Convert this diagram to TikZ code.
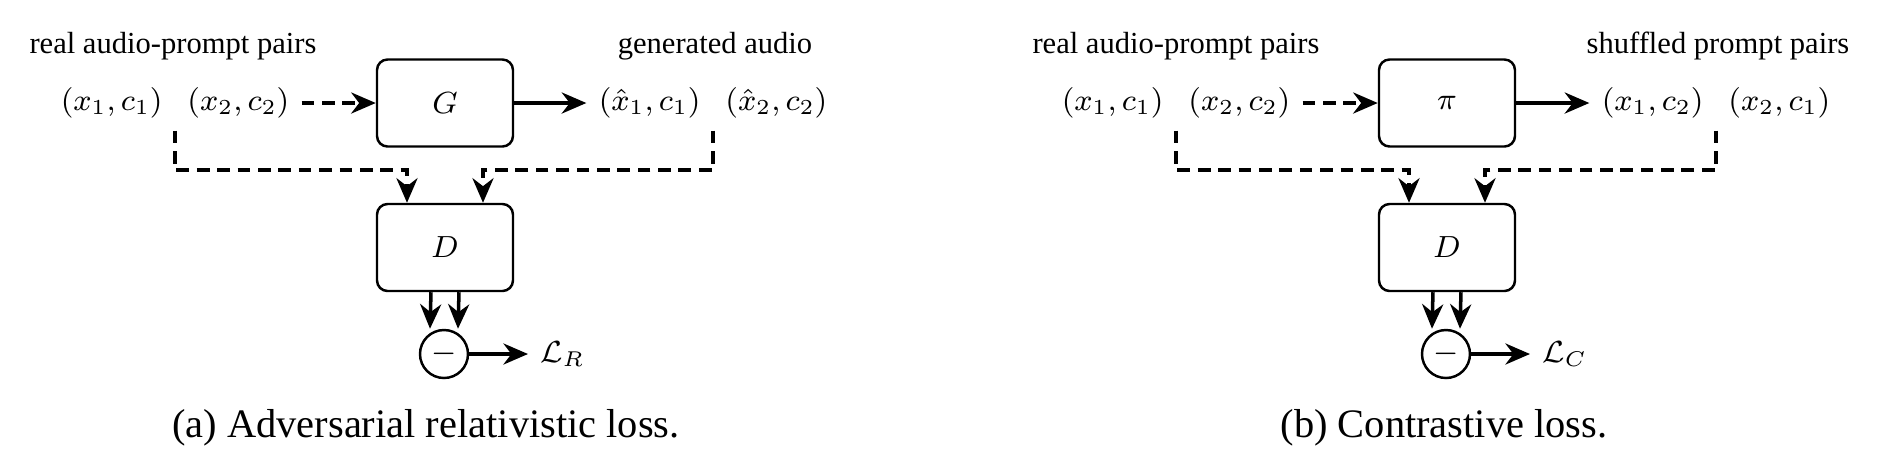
\documentclass[tikz,border=0pt]{standalone}
\usepackage{fix-cm}
\usepackage[no-math]{fontspec}
\setmainfont{Liberation Serif}
\usetikzlibrary{arrows.meta}
\tikzstyle{block} = [draw,line width=0.7pt,rounded corners=3pt,minimum width=1.36cm,minimum height=0.87cm,inner sep=0pt]
\tikzstyle{arrow} = [line width=1pt,->,>={Stealth[length=7pt,width=6pt]}]
\tikzstyle{dasharrow} = [arrow,dash pattern=on 3.6pt off 2.2pt]
\tikzstyle{diff} = [draw,line width=0.7pt,circle,minimum size=0.48cm,inner sep=0pt]
\newcommand{\lblsize}{\fontsize{8.7}{10}\selectfont}
\newcommand{\capsize}{\fontsize{11.5}{13}\selectfont}

\begin{document}
\begin{tikzpicture}[font=\lblsize]
		\useasboundingbox (0,0) rectangle (18.78,-4.75);

		% (a) adversarial relativistic loss
		\node[anchor=base] (reallblA) at (1.73,-0.53) {real audio-prompt pairs};
		\node (realA) at (1.75,-1.03) {$(x_1,c_1)$\hspace{2.5mm}$(x_2,c_2)$};
		\node[block] (GA) at (4.45,-1.03) {$G$};
		\node[anchor=base] (genlblA) at (7.15,-0.53) {generated audio};
		\node (genA) at (7.13,-1.03) {$(\hat{x}_1,c_1)$\hspace{2.5mm}$(\hat{x}_2,c_2)$};
		\node[block] (DA) at (4.45,-2.475) {$D$};
		\node[diff] (subA) at (4.44,-3.54) {$-$};
		\node[anchor=west] (lossA) at (5.28,-3.54) {$\mathcal{L}_R$};
		\node[anchor=base,font=\capsize] (capA) at (4.26,-4.37) {(a) Adversarial relativistic loss.};
		\coordinate (busA) at (0,-1.70);
		\coordinate (inA1) at ([xshift=-3.8mm]DA.north);
		\coordinate (inA2) at ([xshift=3.8mm]DA.north);

		\draw[dasharrow] (realA) -- (GA);
		\draw[arrow] (GA) -- (genA);
		\draw[dasharrow] (realA.south) |- (inA1 |- busA) -- (inA1);
		\draw[dasharrow] (genA.south) |- (inA2 |- busA) -- (inA2);
		\foreach \s in {-1.4mm,1.4mm}{
			\draw[arrow] ([xshift=\s]DA.south) -- ([xshift=\s]subA.north);
		}
		\draw[arrow] (subA) -- (lossA);

		% (b) contrastive loss
		\node[anchor=base] (reallblB) at (11.76,-0.53) {real audio-prompt pairs};
		\node (realB) at (11.76,-1.03) {$(x_1,c_1)$\hspace{2.5mm}$(x_2,c_2)$};
		\node[block] (PB) at (14.47,-1.03) {$\pi$};
		\node[anchor=base] (shuflblB) at (17.18,-0.53) {shuffled prompt pairs};
		\node (shufB) at (17.16,-1.03) {$(x_1,c_2)$\hspace{2.5mm}$(x_2,c_1)$};
		\node[block] (DB) at (14.47,-2.475) {$D$};
		\node[diff] (subB) at (14.46,-3.54) {$-$};
		\node[anchor=west] (lossB) at (15.30,-3.54) {$\mathcal{L}_C$};
		\node[anchor=base,font=\capsize] (capB) at (14.44,-4.37) {(b) Contrastive loss.};
		\coordinate (busB) at (0,-1.70);
		\coordinate (inB1) at ([xshift=-3.8mm]DB.north);
		\coordinate (inB2) at ([xshift=3.8mm]DB.north);

		\draw[dasharrow] (realB) -- (PB);
		\draw[arrow] (PB) -- (shufB);
		\draw[dasharrow] (realB.south) |- (inB1 |- busB) -- (inB1);
		\draw[dasharrow] (shufB.south) |- (inB2 |- busB) -- (inB2);
		\foreach \s in {-1.4mm,1.4mm}{
			\draw[arrow] ([xshift=\s]DB.south) -- ([xshift=\s]subB.north);
		}
		\draw[arrow] (subB) -- (lossB);
	\end{tikzpicture}
\end{document}
